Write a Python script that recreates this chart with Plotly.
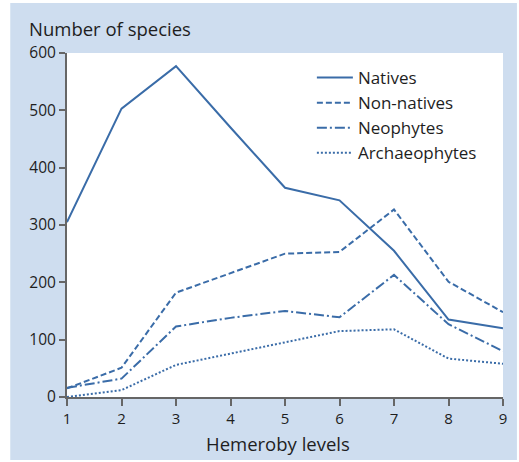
import plotly.graph_objects as go

levels = [1, 2, 3, 4, 5, 6, 7, 8, 9]
natives = [305, 503, 577, 470, 365, 343, 255, 135, 120]
non_natives = [15, 51, 182, 216, 250, 253, 327, 201, 148]
neophytes = [16, 32, 123, 138, 150, 139, 213, 127, 80]
archaeophytes = [0, 12, 56, 76, 96, 115, 118, 67, 58]

series = [
    ("Natives", natives, "solid"),
    ("Non-natives", non_natives, "6px,3px"),
    ("Neophytes", neophytes, "10px,3px,2px,3px"),
    ("Archaeophytes", archaeophytes, "2px,2px"),
]

LINE = "rgb(58,108,168)"
PANEL = "rgb(206,221,239)"
FONT = "Open Sans"
TEXT = "#1e1e1e"

fig = go.Figure()
for name, vals, dash in series:
    fig.add_trace(go.Scatter(
        x=levels, y=vals, name=name, mode="lines",
        line=dict(color=LINE, width=2, dash=dash),
    ))

W, H = 519, 462
L, R, T, B = 67, 14, 53, 65
pw, ph = W - L - R, H - T - B

def px_x(p):
    return (p - L) / pw

def px_y(p):
    return (H - B - p) / ph

fig.update_layout(
    width=W, height=H,
    margin=dict(l=L, r=R, t=T, b=B),
    paper_bgcolor="white",
    plot_bgcolor="white",
    font=dict(family=FONT, color=TEXT),
    showlegend=True,
    legend=dict(
        x=px_x(313), y=px_y(60), xanchor="left", yanchor="top",
        bgcolor="rgba(0,0,0,0)", font=dict(size=17, family=FONT, color=TEXT),
        tracegroupgap=0, itemwidth=36,
    ),
    shapes=[
        dict(type="rect", xref="paper", yref="paper", layer="below",
             x0=px_x(10), x1=px_x(519), y0=px_y(460), y1=px_y(3),
             fillcolor=PANEL, line=dict(width=0)),
        dict(type="rect", xref="paper", yref="paper", layer="below",
             x0=0, x1=1, y0=0, y1=1,
             fillcolor="white", line=dict(width=0)),
    ],
    annotations=[
        dict(text="Number of species", xref="paper", yref="paper",
             x=px_x(27), y=px_y(28), xanchor="left", yanchor="middle",
             showarrow=False, font=dict(size=18.5, family=FONT, color=TEXT)),
        dict(text="Hemeroby levels", xref="paper", yref="paper",
             x=px_x(279), y=px_y(443), xanchor="center", yanchor="middle",
             showarrow=False, font=dict(size=18.5, family=FONT, color=TEXT)),
    ],
)

fig.update_xaxes(
    range=[1, 9], tickvals=levels, showgrid=False, zeroline=False,
    showline=True, linecolor="#666", linewidth=2,
    ticks="outside", ticklen=7, tickwidth=2, tickcolor="#666",
    tickfont=dict(size=15, family=FONT, color=TEXT),
)
fig.update_yaxes(
    range=[0, 600], tickvals=[0, 100, 200, 300, 400, 500, 600],
    showgrid=False, zeroline=False,
    showline=True, linecolor="#666", linewidth=2,
    ticks="outside", ticklen=6, tickwidth=2, tickcolor="#666",
    tickfont=dict(size=15.5, family=FONT, color=TEXT),
)

fig.write_html("out.html")
